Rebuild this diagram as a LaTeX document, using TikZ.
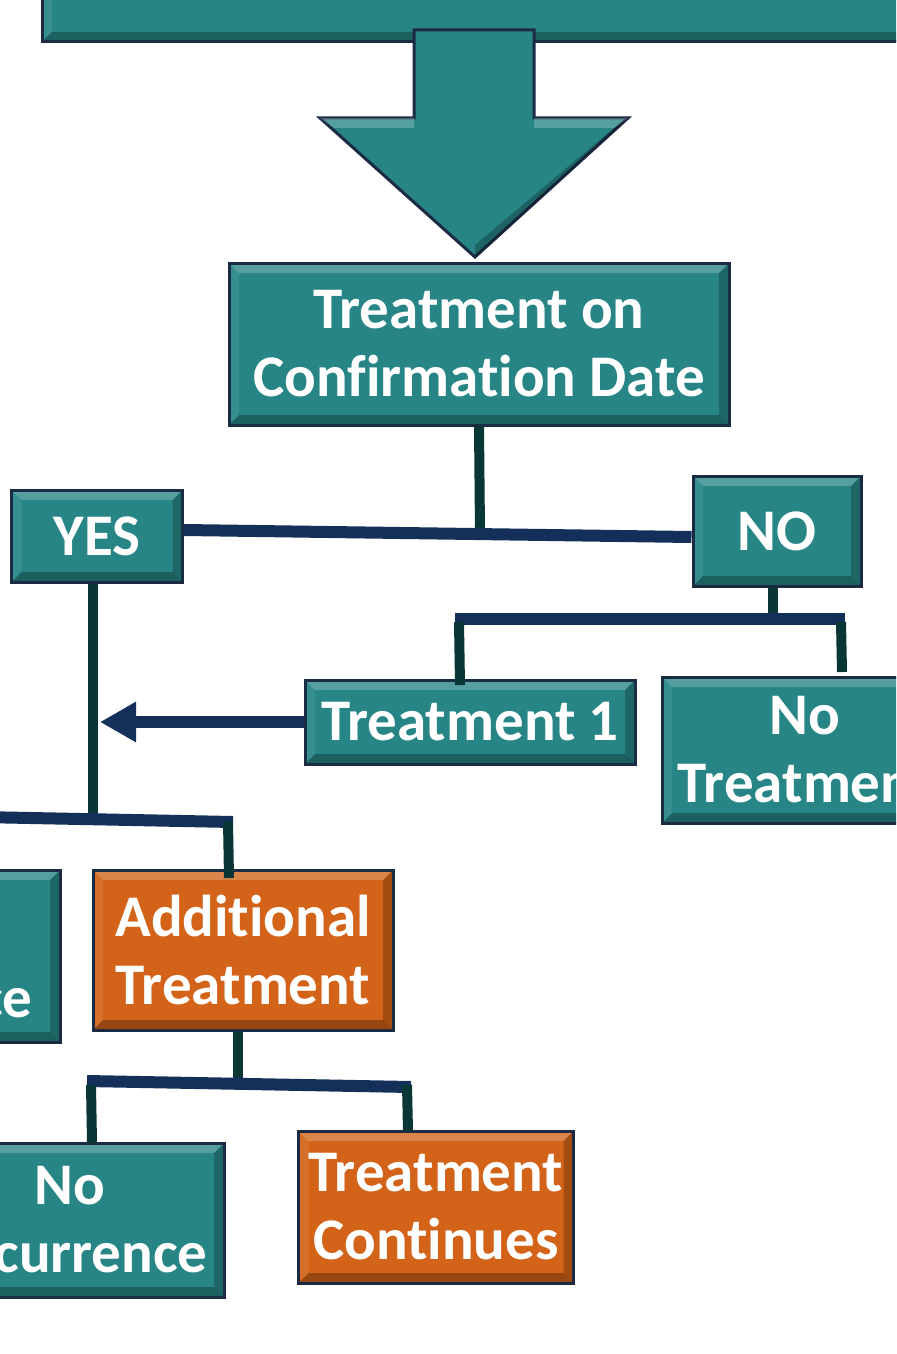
\documentclass[tikz,border=0pt]{standalone}
\usepackage{fontspec}
\setmainfont{Carlito}[Ligatures=NoCommon]
\usetikzlibrary{arrows.meta}

\definecolor{tealbox}{HTML}{278585}
\definecolor{orangebox}{HTML}{D36318}
\definecolor{boxedge}{HTML}{1B2B44}
\definecolor{navyline}{HTML}{14305A}
\definecolor{stemline}{HTML}{0B3636}

\tikzset{
  boxfont/.style={text=white, font=\bfseries\fontsize{29.5}{34}\selectfont},
  bevelbox/.style={draw=boxedge, line width=1.5pt, fill=#1, boxfont, align=center, inner sep=0pt,
    path picture={
      \fill[white,opacity=.22] (path picture bounding box.north west) -- (path picture bounding box.north east)
        -- ([shift={(-5pt,-5pt)}]path picture bounding box.north east) -- ([shift={(5pt,-5pt)}]path picture bounding box.north west) -- cycle;
      \fill[black,opacity=.28] (path picture bounding box.south west) -- (path picture bounding box.south east)
        -- ([shift={(-5pt,5pt)}]path picture bounding box.south east) -- ([shift={(5pt,5pt)}]path picture bounding box.south west) -- cycle;
      \fill[black,opacity=.22] (path picture bounding box.north east) -- (path picture bounding box.south east)
        -- ([shift={(-5pt,5pt)}]path picture bounding box.south east) -- ([shift={(-5pt,-5pt)}]path picture bounding box.north east) -- cycle;
      \fill[white,opacity=.08] (path picture bounding box.north west) -- (path picture bounding box.south west)
        -- ([shift={(5pt,5pt)}]path picture bounding box.south west) -- ([shift={(5pt,-5pt)}]path picture bounding box.north west) -- cycle;
    }},
  bevelbox/.default=tealbox,
  stem/.style={draw=stemline, line width=5pt},
  bar/.style={draw=navyline, line width=6pt}
}

\begin{document}
\begin{tikzpicture}[x=0.5pt,y=-0.5pt]
  \useasboundingbox (0,0) rectangle (896,1354);
  \clip (0,0) rectangle (896,1354);

  % top banner and big arrow
  \node[bevelbox, minimum width=518pt, minimum height=82pt] (banner) at (560,-40) {};
  \draw[draw=boxedge, line width=1.5pt, fill=tealbox]
    (414,30) -- (534,30) -- (534,118) -- (628,118) -- (475,257) -- (320,118) -- (414,118) -- cycle;
  \fill[white,opacity=.22] (320,118) -- (414,118) -- (414,128) -- (334,128) -- cycle;
  \fill[white,opacity=.22] (534,118) -- (628,118) -- (614,128) -- (534,128) -- cycle;
  \fill[black,opacity=.25] (628,118) -- (475,257) -- (475,245) -- (614,128) -- cycle;

  \node[bevelbox, minimum width=250pt, minimum height=81pt] (conf) at (479,344) {Treatment on\\Confirmation Date};
  \node[bevelbox, minimum width=85.5pt, minimum height=46pt] (yes) at (97,536) {YES};
  \node[bevelbox, minimum width=84pt, minimum height=55pt] (no) at (777,531) {NO};
  \node[bevelbox, minimum width=165pt, minimum height=42pt] (treat1) at (470,722) {Treatment 1};
  \node[bevelbox, minimum width=143pt, minimum height=73pt] (notreat) at (805,750) {No\\Treatment};
  \node[bevelbox, minimum width=100pt, minimum height=86pt] (leftbox) at (-40,956) {};
  \node[boxfont, anchor=base east, inner sep=0pt] (lefttxt) at (33,1017) {ce};
  \node[bevelbox=orangebox, minimum width=150pt, minimum height=80pt] (addtreat) at (243,950) {Additional\\Treatment};
  \node[bevelbox, minimum width=154pt, minimum height=77pt] (norec) at (70,1220) {No\\Recurrence};
  \node[bevelbox=orangebox, minimum width=137.5pt, minimum height=76pt] (tcont) at (436,1207) {Treatment\\Continues};

  % junction points
  \coordinate (j1) at (480,532);
  \coordinate (nbl) at (455,619);
  \coordinate (nbr) at (845,619);
  \coordinate (yb) at (93,818);
  \coordinate (ybl) at (-20,817);
  \coordinate (ybr) at (233,822);
  \coordinate (ab) at (238,1083);
  \coordinate (abl) at (87,1081);
  \coordinate (abr) at (411,1087);

  % connectors
  \draw[stem] (conf.south) -- (j1);
  \draw[bar] ([yshift=3pt]yes.east) -- ([yshift=-3pt]no.west);
  \draw[stem] (no.south -| 773,0) -- (773,619);
  \draw[bar] (nbl) -- (nbr);
  \draw[stem] (459,622) -- (460,685);
  \draw[stem] (841,622) -- (842,672);
  \draw[stem] (yes.south -| yb) -- (yb);
  \draw[bar, -{Triangle[length=18pt,width=19pt]}, shorten >=3.5pt] (treat1.west) -- (treat1.west -| yb);
  \draw[bar] (ybl) -- (ybr);
  \draw[stem] (228,821) -- (229,878);
  \draw[stem] (addtreat.south -| ab) -- (ab);
  \draw[bar] (abl) -- (abr);
  \draw[stem] (91,1085) -- (92,1143);
  \draw[stem] (407,1085) -- (408,1131);
\end{tikzpicture}
\end{document}
